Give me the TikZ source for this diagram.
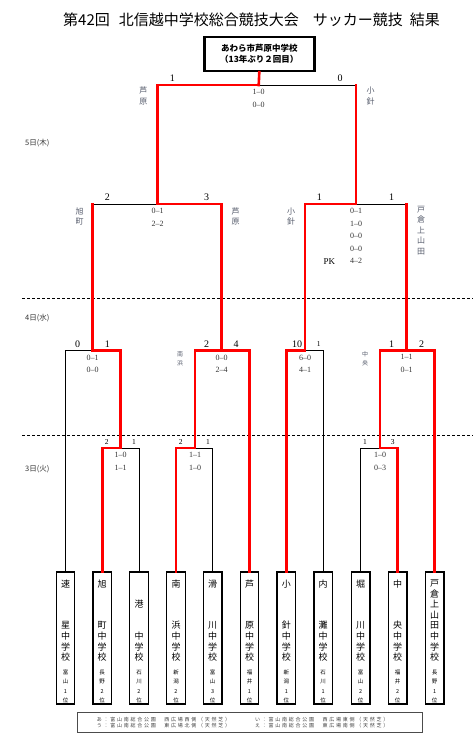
\documentclass[tikz,border=0pt]{standalone}
\usepackage{fontspec}
\setmainfont{Liberation Serif}
\newfontfamily\jp{Noto Sans CJK JP}
\newfontfamily\jpwide[LetterSpace=35]{Noto Sans CJK JP}
\usepackage{xcolor}
\usetikzlibrary{positioning, calc}
\definecolor{winred}{HTML}{FF0000}
\definecolor{labelgray}{HTML}{555B6B}
\definecolor{daygray}{HTML}{333333}

\tikzset{
  team/.style={draw, line width=1.3pt, minimum width=18.5pt, minimum height=132pt, inner sep=0pt},
  tname/.style={font=\jp\fontsize{9}{10.6}\selectfont, align=center, inner sep=0pt},
  trank/.style={font=\jp\fontsize{5.5}{9.3}\selectfont, align=center, inner sep=0pt},
  lose/.style={draw=black, line width=1pt},
  win/.style={draw=winred, line width=2.6pt, line cap=rect},
  score/.style={font=\fontsize{8}{12.6}\selectfont, align=center, inner sep=0pt, text=black!80},
  goal/.style={font=\fontsize{10}{10}\selectfont, inner sep=0pt},
  goalsm/.style={font=\fontsize{7.5}{7.5}\selectfont, inner sep=0pt},
  side/.style={font=\jp\fontsize{8}{10.5}\selectfont, align=center, inner sep=0pt, text=labelgray},
  sidesm/.style={font=\jp\fontsize{6}{9}\selectfont, align=center, inner sep=0pt, text=labelgray},
  day/.style={font=\jp\fontsize{7.5}{7.5}\selectfont, anchor=west, inner sep=0pt, text=daygray},
  daysep/.style={densely dashed, line width=0.8pt},
  legendtext/.style={font=\jpwide\fontsize{5}{5}\selectfont, anchor=west, inner sep=0pt, text=black!75}
}

\begin{document}
\begin{tikzpicture}[x=1pt, y=-1pt]
  \useasboundingbox (0,0) rectangle (473,745);

  \node[font=\jp\fontsize{15}{15}\selectfont, anchor=west, inner sep=0pt] (title) at (63,20)
    {第42回\hspace{9pt}北信越中学校総合競技大会\hspace{14pt}サッカー競技\hspace{7pt}結果};

  \node[draw, line width=2.5pt, minimum width=110pt, minimum height=34pt, align=center,
        font=\jp\bfseries\fontsize{8.5}{11}\selectfont, inner sep=0pt] (champ) at (259.3,54)
    {あわら市芦原中学校\\（13年ぶり２回目）};

  % days
  \node[day] (d5) at (25,143) {5日(木)};
  \node[day] (d4) at (25,318) {4日(水)};
  \node[day] (d3) at (25,469) {3日(火)};
  \draw[daysep] (22,298.3) -- (473,298.3);
  \draw[daysep] (22,435.3) -- (473,435.3);

  % teams
  \foreach \i/\x/\nm/\rk in {
      1/65.5/{速\\[31pt]星\\}/{富\\山\\1\\位},
      2/102.2/{旭\\[31pt]町\\}/{長\\野\\2\\位},
      3/139/{港\\[21pt]}/{石\\川\\2\\位},
      4/176/{南\\[31pt]浜\\}/{新\\潟\\2\\位},
      5/212.7/{滑\\[31pt]川\\}/{富\\山\\3\\位},
      6/249.5/{芦\\[31pt]原\\}/{福\\井\\1\\位},
      7/286.3/{小\\[31pt]針\\}/{新\\潟\\1\\位},
      8/323.2/{内\\[31pt]灘\\}/{石\\川\\1\\位},
      9/360.6/{堀\\[31pt]川\\}/{富\\山\\2\\位},
      10/397.6/{中\\[31pt]央\\}/{福\\井\\2\\位},
      11/434.6/{戸\\倉\\上\\山\\田\\}/{長\\野\\1\\位}}{
    \node[team] (t\i) at (\x,638) {};
    \node[tname, above=43pt of t\i.south] {\nm 中\\学\\校};
    \node[trank, above=1.5pt of t\i.south] {\rk};
  }

  % match points
  \coordinate (mA) at (120.7,448);
  \coordinate (mB) at (195,448);
  \coordinate (mC) at (380,448);
  \coordinate (mD) at (92.7,350.5);
  \coordinate (mE) at (221.7,350.5);
  \coordinate (mF) at (305,350.5);
  \coordinate (mG) at (406.7,350.5);
  \coordinate (mH) at (157.7,204);
  \coordinate (mI) at (356,204);
  \coordinate (mK) at (258.7,85);

  \draw[lose] (t3.north) |- (mA);
  \draw[lose] (t5.north) |- (mB);
  \draw[lose] (t9.north) |- (mC);
  \draw[lose] (t1.north) |- (mD);
  \draw[lose] (t8.north) |- (mF);
  \draw[lose] (mD |- mH) -- (mH);
  \draw[lose] (mG |- mI) -- (mI);
  \draw[lose] (mI |- mK) -- (mK);

  \draw[win] (t2.north) |- (mA);
  \draw[win] (t4.north) |- (mB);
  \draw[win] (t10.north) |- (mC);
  \draw[win] (mA) |- (mD);
  \draw[win] (mB) |- (mE) -| (t6.north);
  \draw[win] (t7.north) |- (mF);
  \draw[win] (mC) |- (mG) -| (t11.north);
  \draw[win] (mD) -- (mD |- mH);
  \draw[win] (mE) |- (mH);
  \draw[win] (mF) |- (mI);
  \draw[win] (mG) -- (mG |- mI);
  \draw[win] (mH) |- (mK);
  \draw[win] (mI) -- (mI |- mK);
  \draw[win] (mK) -- (champ.south);

  % scores
  \node[score, below=4pt of mA] (sA) {1--0\\1--1};
  \node[score, below=4pt of mB] (sB) {1--1\\1--0};
  \node[score, below=4pt of mC] (sC) {1--0\\0--3};
  \node[score, below=4pt of mD] (sD) {0--1\\0--0};
  \node[score, below=4pt of mE] (sE) {0--0\\2--4};
  \node[score, below=4pt of mF] (sF) {6--0\\4--1};
  \node[score, below=4pt of mG] (sG) {1--1\\0--1};
  \node[score, below=4pt of mH] (sH) {0--1\\2--2};
  \node[score, below=4pt of mI] (sI) {0--1\\1--0\\0--0\\0--0\\4--2};
  \node[score, below=4pt of mK] (sK) {1--0\\0--0};
  \node[font=\fontsize{9}{9}\selectfont, inner sep=0pt] (pk) at (329.3,262) {PK};

  % goals
  \node[goal] (gK1) at (172.3,78) {1};
  \node[goal] (gK2) at (340,78) {0};
  \node[goal] (gH1) at (107.3,197) {2};
  \node[goal] (gH2) at (206.7,197) {3};
  \node[goal] (gI1) at (319.3,197) {1};
  \node[goal] (gI2) at (391.7,197) {1};
  \node[goal] (gD1) at (77.7,344) {0};
  \node[goal] (gD2) at (107.3,344) {1};
  \node[goal] (gE1) at (206.7,344) {2};
  \node[goal] (gE2) at (236,344) {4};
  \node[goal] (gF1) at (297,344) {10};
  \node[goalsm] (gF2) at (318.7,344) {1};
  \node[goal] (gG1) at (391.7,344) {1};
  \node[goal] (gG2) at (421.7,344) {2};
  \node[goalsm] (gA1) at (106.7,442) {2};
  \node[goalsm] (gA2) at (134,442) {1};
  \node[goalsm] (gB1) at (180.7,442) {2};
  \node[goalsm] (gB2) at (208,442) {1};
  \node[goalsm] (gC1) at (365,442) {1};
  \node[goalsm] (gC2) at (392.7,442) {3};

  % names beside the lines
  \node[side] (nK1) at (143.3,96) {芦\\原};
  \node[side] (nK2) at (370.7,96) {小\\針};
  \node[side] (nH1) at (79.7,216.5) {旭\\町};
  \node[side] (nH2) at (235.5,216.5) {芦\\原};
  \node[side] (nI1) at (291,216.5) {小\\針};
  \node[side] (nI2) at (421,230.2) {戸\\倉\\上\\山\\田};
  \node[sidesm] (nE) at (180,358.7) {南\\浜};
  \node[sidesm] (nG) at (365,358.7) {中\\央};

  % venues
  \node[draw=black!70, line width=0.8pt, minimum width=345.4pt, minimum height=19.6pt, inner sep=0pt] (legend) at (250,722.5) {};
  \node[legendtext] (v1) at (96.7,719.3) {あ：富山南総合公園　西広場西側（天然芝）};
  \node[legendtext] (v2) at (255,719.3) {い：富山南総合公園　西広場東側（天然芝）};
  \node[legendtext] (v3) at (96.7,725.7) {う：富山南総合公園　東広場北側（天然芝）};
  \node[legendtext] (v4) at (255,725.7) {え：富山南総合公園　東広場南側（天然芝）};
\end{tikzpicture}
\end{document}
